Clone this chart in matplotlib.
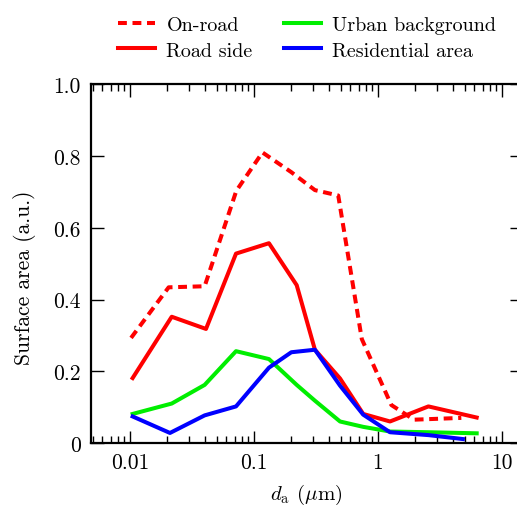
import matplotlib
matplotlib.use("Agg")
import matplotlib.pyplot as plt
from matplotlib.ticker import FixedLocator, FuncFormatter, LogLocator, NullFormatter

plt.rcParams['font.family'] = ['cmr10', 'DejaVu Serif']
plt.rcParams['mathtext.fontset'] = 'cm'
plt.rcParams['axes.formatter.use_mathtext'] = True

# on-road (dashed)
onroad_d = [0.0102, 0.0205, 0.040, 0.072, 0.117, 0.20, 0.31, 0.478, 0.74, 1.28, 1.95, 4.7]
onroad_s = [0.293, 0.434, 0.437, 0.703, 0.81, 0.755, 0.705, 0.69, 0.29, 0.106, 0.065, 0.07]

# road side
road_d = [0.0105, 0.0217, 0.041, 0.0716, 0.132, 0.221, 0.31, 0.494, 0.76, 1.25, 2.55, 6.25]
road_s = [0.181, 0.352, 0.318, 0.528, 0.557, 0.44, 0.26, 0.18, 0.081, 0.06, 0.102, 0.071]

# urban background
urban_d = [0.0105, 0.0217, 0.040, 0.0716, 0.132, 0.221, 0.31, 0.494, 0.76, 1.25, 2.55, 6.25]
urban_s = [0.081, 0.11, 0.162, 0.256, 0.234, 0.162, 0.118, 0.06, 0.045, 0.032, 0.03, 0.027]

# residential area
resid_d = [0.0105, 0.021, 0.040, 0.0716, 0.132, 0.20, 0.31, 0.494, 0.76, 1.25, 2.55, 4.84]
resid_s = [0.074, 0.028, 0.077, 0.102, 0.21, 0.253, 0.26, 0.16, 0.079, 0.03, 0.022, 0.011]

W, H = 517, 506
fig = plt.figure(figsize=(W / 100, H / 100), dpi=100)
left, right, top, bottom = 90.7, 522, 85.3, 444
ax = fig.add_axes([left / W, (H - bottom) / H, (right - left) / W, (bottom - top) / H])

lw = 2.9
ax.plot(onroad_d, onroad_s, color='#ff0000', lw=lw, ls=(0, (2.2, 1.4)), label='On-road')
ax.plot(road_d, road_s, color='#ff0000', lw=lw, label='Road side')
ax.plot(urban_d, urban_s, color='#00ee00', lw=lw, label='Urban background')
ax.plot(resid_d, resid_s, color='#0000ff', lw=lw, label='Residential area')

ax.set_xscale('log')
ax.set_xlim(0.00482, 14.5)
ax.set_ylim(0, 1.0)
ax.xaxis.set_major_locator(FixedLocator([0.01, 0.1, 1, 10]))
ax.xaxis.set_major_formatter(FuncFormatter(lambda v, p: {0.01: '0.01', 0.1: '0.1', 1: '1', 10: '10'}.get(round(v, 3), '')))
ax.xaxis.set_minor_locator(LogLocator(base=10, subs=range(2, 10), numticks=20))
ax.xaxis.set_minor_formatter(NullFormatter())
ax.yaxis.set_major_locator(FixedLocator([0, 0.2, 0.4, 0.6, 0.8, 1.0]))
ax.yaxis.set_major_formatter(FuncFormatter(lambda v, p: '0' if abs(v) < 1e-9 else '%.1f' % v))

ax.tick_params(which='both', direction='in', top=True, right=True, width=1.0)
ax.tick_params(which='major', length=9, labelsize=15.5, pad=7)
ax.tick_params(which='minor', length=5)
for s in ax.spines.values():
    s.set_linewidth(1.6)

ax.set_xlabel(r'$d_{\mathrm{a}}$ ($\mu$m)', fontsize=15, labelpad=7)
ax.set_ylabel('Surface area (a.u.)', fontsize=15.5)
ax.yaxis.set_label_coords(-0.127, 0.463)

fig.legend(loc='upper left', bbox_to_anchor=(104 / W, 1 - 3 / H), ncol=2, frameon=False,
           fontsize=14.5, handlelength=1.85, handletextpad=0.55, columnspacing=1.55,
           labelspacing=0.36, borderpad=0.2)

fig.savefig('out.png', dpi=100)
